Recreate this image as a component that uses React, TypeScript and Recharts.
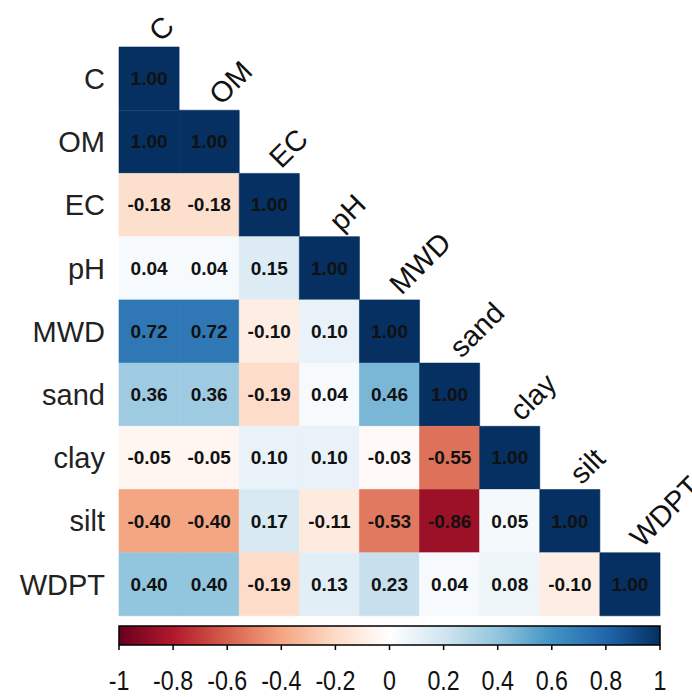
import React from 'react';
import { BarChart, Bar, XAxis, YAxis, Cell, LabelList } from 'recharts';

const varNames = ['C', 'OM', 'EC', 'pH', 'MWD', 'sand', 'clay', 'silt', 'WDPT'];

const rowC = [1.0];
const rowOM = [1.0, 1.0];
const rowEC = [-0.18, -0.18, 1.0];
const rowPH = [0.04, 0.04, 0.15, 1.0];
const rowMWD = [0.72, 0.72, -0.1, 0.1, 1.0];
const rowSand = [0.36, 0.36, -0.19, 0.04, 0.46, 1.0];
const rowClay = [-0.05, -0.05, 0.1, 0.1, -0.03, -0.55, 1.0];
const rowSilt = [-0.4, -0.4, 0.17, -0.11, -0.53, -0.86, 0.05, 1.0];
const rowWDPT = [0.4, 0.4, -0.19, 0.13, 0.23, 0.04, 0.08, -0.1, 1.0];

const corrRows = [rowC, rowOM, rowEC, rowPH, rowMWD, rowSand, rowClay, rowSilt, rowWDPT];

const colorbarTicks = [-1, -0.8, -0.6, -0.4, -0.2, 0, 0.2, 0.4, 0.6, 0.8, 1];
const colorbarDomain = [-1, 1];

const palette = ['#67001F', '#B2182B', '#D6604D', '#F4A582', '#FDDBC7', '#FFFFFF', '#D1E5F0', '#92C5DE', '#4393C3', '#2166AC', '#053061'];

function hexToRgb(h: string) {
  return [parseInt(h.slice(1, 3), 16), parseInt(h.slice(3, 5), 16), parseInt(h.slice(5, 7), 16)];
}
function corrColor(v: number) {
  const t = (Math.max(-1, Math.min(1, v)) + 1) / 2 * (palette.length - 1);
  const i = Math.min(palette.length - 2, Math.floor(t));
  const f = t - i;
  const a = hexToRgb(palette[i]);
  const b = hexToRgb(palette[i + 1]);
  const c = a.map((x, k) => Math.round(x + (b[k] - x) * f));
  return `rgb(${c[0]},${c[1]},${c[2]})`;
}

const tableData = varNames.map((name, i) => {
  const row: any = { name };
  corrRows[i].forEach((v, k) => {
    row[`s${k}`] = 1;
    row[`v${k}`] = v;
    if (k === i) row[`d${k}`] = varNames[k];
  });
  return row;
});

const colorbarData = [{ name: 'cb', range: colorbarDomain }];

const FONT = "'Liberation Sans', Arial, sans-serif";

const getBox = (p: any) => {
  const vb = p.viewBox && p.viewBox.width !== undefined ? p.viewBox : p;
  return { x: Number(vb.x), y: Number(vb.y), w: Number(vb.width), h: Number(vb.height) };
};

const ValueLabel = (p: any) => {
  if (p.value === undefined || p.value === null) return null;
  const { x, y, w, h } = getBox(p);
  if (!(w > 0)) return null;
  return (
    <text x={x + w / 2} y={y + h / 2} textAnchor="middle" dominantBaseline="central"
      fontFamily={FONT} fontWeight="bold" fontSize={19} fill="#111">
      {Number(p.value).toFixed(2)}
    </text>
  );
};

const DiagLabel = (p: any) => {
  if (!p.value) return null;
  const { x, y, w } = getBox(p);
  const ax = x + w / 2 + 12;
  const ay = y - 4;
  return (
    <text x={ax} y={ay} textAnchor="start" transform={`rotate(-45, ${ax}, ${ay})`}
      fontFamily={FONT} fontSize={29} fill="#111">
      {p.value}
    </text>
  );
};

const ColorbarTick = (p: any) => {
  const { x, y, payload } = p;
  return (
    <g transform={`translate(${x},${y})`}>
      <text x={0} y={0} dy={40} textAnchor="middle" transform="scale(0.83,1)"
        fontFamily={FONT} fontSize={28} fill="#111">
        {String(payload.value)}
      </text>
    </g>
  );
};

export default function App() {
  return (
    <div style={{ position: 'absolute', left: 0, top: 0, width: 692, height: 697, background: '#fff', overflow: 'hidden' }}>
      <svg width={0} height={0} style={{ position: 'absolute' }}>
        <defs>
          <linearGradient id="cbGrad" x1="0" y1="0" x2="1" y2="0">
            {palette.map((c, i) => (
              <stop key={i} offset={`${(i / (palette.length - 1)) * 100}%`} stopColor={c} />
            ))}
          </linearGradient>
        </defs>
      </svg>
      <div style={{ position: 'absolute', left: 0, top: 0 }}>
        <BarChart width={692} height={620} data={tableData} layout="vertical"
          margin={{ top: 47, right: 32, bottom: 4, left: 0 }} barCategoryGap={0}>
          <XAxis type="number" domain={[0, 9]} hide />
          <YAxis type="category" dataKey="name" width={119} axisLine={false} tickLine={false}
            tickSize={0} tickMargin={14} interval={0}
            tick={{ fontSize: 29, fill: '#222', fontFamily: FONT }} />
          {varNames.map((_, k) => (
            <Bar key={k} dataKey={`s${k}`} stackId="m" isAnimationActive={false}>
              {tableData.map((row, i) => {
                const v = row[`v${k}`];
                const col = v === undefined ? 'none' : corrColor(v);
                return <Cell key={i} fill={col} stroke={col} strokeWidth={0.6} />;
              })}
              <LabelList dataKey={`v${k}`} content={ValueLabel} />
              <LabelList dataKey={`d${k}`} content={DiagLabel} />
            </Bar>
          ))}
        </BarChart>
      </div>
      <div style={{ position: 'absolute', left: 0, top: 616 }}>
        <BarChart width={692} height={81} data={colorbarData} layout="vertical"
          margin={{ top: 10, right: 32, bottom: 0, left: 119 }} barCategoryGap={0}>
          <XAxis type="number" domain={colorbarDomain} ticks={colorbarTicks} interval={0}
            height={52} axisLine={false} tickSize={5} tickMargin={0}
            tickLine={{ stroke: '#000', strokeWidth: 1.5 }}
            tick={<ColorbarTick />} />
          <YAxis type="category" dataKey="name" hide />
          <Bar dataKey="range" fill="url(#cbGrad)" stroke="#000" strokeWidth={1.5} isAnimationActive={false} />
        </BarChart>
      </div>
    </div>
  );
}
